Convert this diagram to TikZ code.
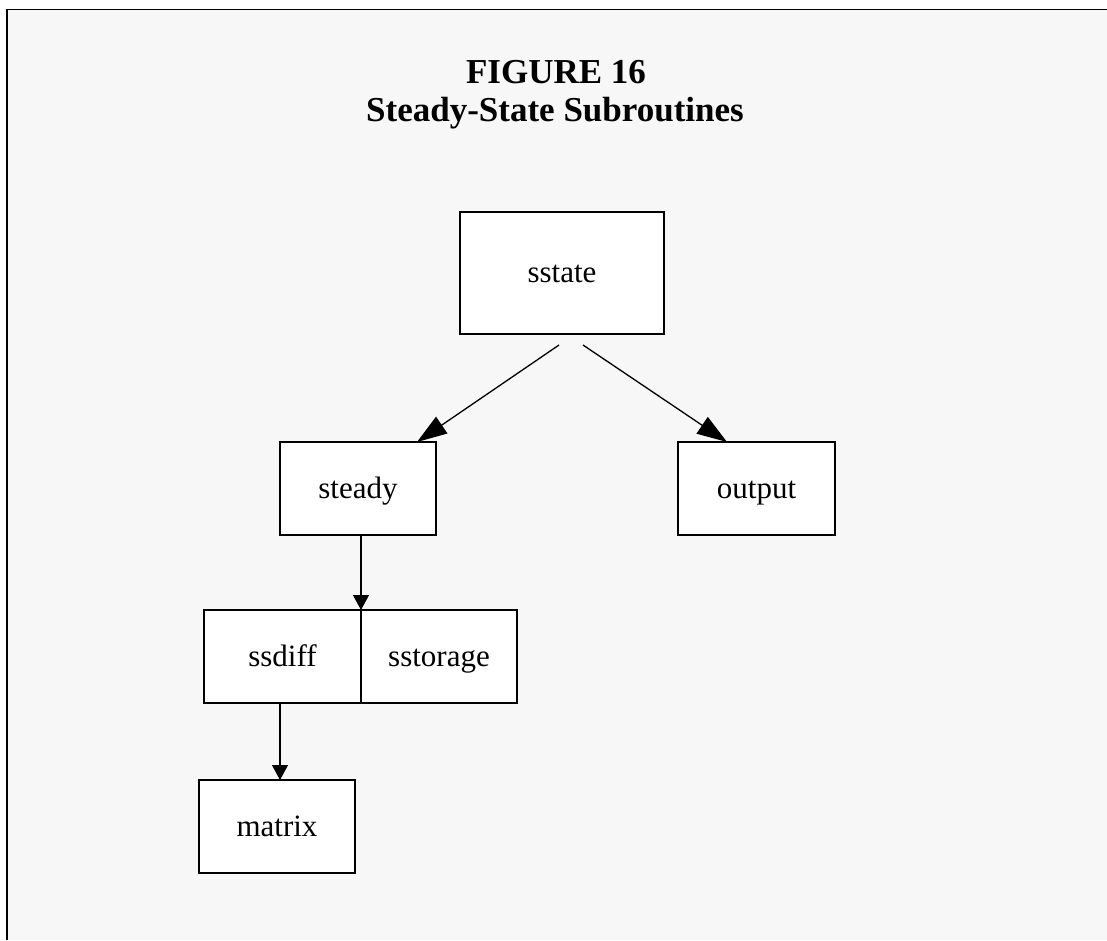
\documentclass[tikz,border=0pt]{standalone}
\usepackage{fontspec}
\setmainfont{Liberation Serif}
\usetikzlibrary{arrows.meta}
\definecolor{panel}{HTML}{F7F7F7}
\tikzset{
  routine/.style={draw=black, fill=white, line width=1.3pt, inner sep=0pt, outer sep=0pt,
    text height=19pt, text depth=0pt, font=\fontsize{31}{35}\selectfont},
  bigbox/.style={routine, minimum width=204pt, minimum height=122pt},
  smallbox/.style={routine, minimum width=156pt, minimum height=93pt},
  calls/.style={line width=1.3pt, -{Triangle[length=30pt,width=20pt]}},
  callsdown/.style={line width=1.3pt, -{Triangle[length=15pt,width=16pt]}},
  heading/.style={font=\fontsize{35}{40}\selectfont\bfseries, anchor=base, inner sep=0pt}
}
\begin{document}
\begin{tikzpicture}[x=1pt, y=-1pt]
  \useasboundingbox (0,0) rectangle (1107,940);
  % panel with its frame on the top and left sides
  \fill[panel] (7,9.5) rectangle (1107,940);
  \draw[line width=1.6pt] (7,940) -- (7,9.5) -- (1107,9.5);

  % title
  \node[heading] (t1) at (556,83) {FIGURE 16};
  \node[heading] (t2) at (555,121) {Steady-State Subroutines};

  % routines
  \node[bigbox] (sstate) at (562,273) {sstate};
  \node[smallbox] (steady) at (358,488.5) {steady};
  \node[smallbox, minimum width=157pt] (output) at (756.5,488.5) {output};
  \node[smallbox, minimum width=157pt] (ssdiff) at (282.5,656.5) {ssdiff};
  \node[smallbox] (sstorage) at (439,656.5) {sstorage};
  \node[smallbox] (matrix) at (277,826.5) {matrix};

  % call arrows
  \coordinate (fromA) at (559,345);
  \coordinate (fromB) at (583,345);
  \draw[calls] (fromA) -- ([xshift=-19pt]steady.north east);
  \draw[calls] (fromB) -- ([xshift=49pt]output.north west);
  \draw[callsdown] (steady.south -| ssdiff.north east) -- (ssdiff.north east);
  \draw[callsdown] ([xshift=-2.5pt]ssdiff.south) -- ([xshift=-2.5pt]ssdiff.south |- matrix.north);
\end{tikzpicture}
\end{document}
